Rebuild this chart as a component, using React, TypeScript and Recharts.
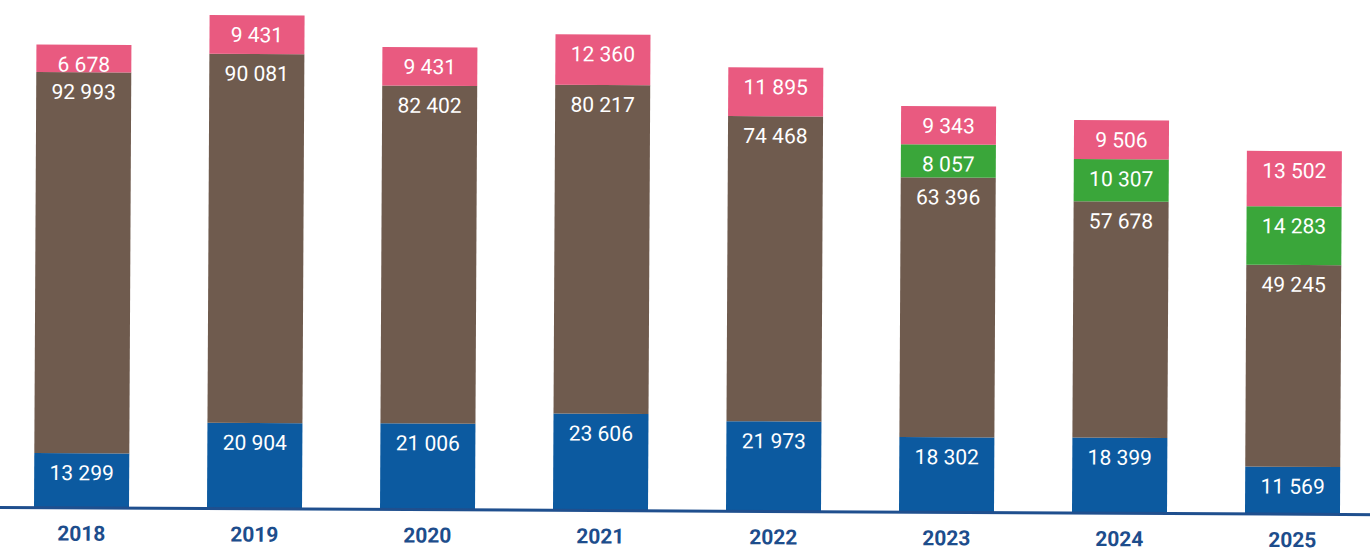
import React from 'react';
import { BarChart, Bar, XAxis, YAxis, LabelList } from 'recharts';

const years = ['2018', '2019', '2020', '2021', '2022', '2023', '2024', '2025'];
const blueValues = [13299, 20904, 21006, 23606, 21973, 18302, 18399, 11569];
const brownValues = [92993, 90081, 82402, 80217, 74468, 63396, 57678, 49245];
const greenValues: (number | null)[] = [null, null, null, null, null, 8057, 10307, 14283];
const pinkValues = [6678, 9431, 9431, 12360, 11895, 9343, 9506, 13502];

const data = years.map((y, i) => ({
  year: y,
  blue: blueValues[i],
  brown: brownValues[i],
  green: greenValues[i],
  pink: pinkValues[i],
}));

const fmt = (v: any) => {
  if (v === null || v === undefined || v === '') return '';
  return String(v).replace(/\B(?=(\d{3})+(?!\d))/g, ' ');
};

const labelStyle = { fill: '#ffffff', fontSize: 21, fontFamily: 'Roboto, sans-serif', fontWeight: 400 };

const series = [
  { key: 'blue', color: '#0c5aa0' },
  { key: 'brown', color: '#6f5b4e' },
  { key: 'green', color: '#3aa63a' },
  { key: 'pink', color: '#e95a80' },
];

export default function App() {
  return (
    <div style={{ position: 'absolute', left: -5, top: 0, width: 1384, height: 551, background: '#fff', transform: 'rotate(0.3deg)', transformOrigin: '690px 511px' }}>
      <BarChart width={1384} height={551} data={data} margin={{ top: 11, right: 0, bottom: 0, left: 0 }} barSize={95}>
        <YAxis hide domain={[0, 122000]} allowDataOverflow />
        <XAxis
          dataKey="year"
          height={40}
          tickLine={false}
          axisLine={{ stroke: '#1f4f8e', strokeWidth: 3 }}
          tick={{ fill: '#1d4d8c', fontSize: 21, fontWeight: 700, fontFamily: 'Roboto, sans-serif' }}
          tickMargin={12}
          interval={0}
        />
        {series.map((s) => (
          <Bar key={s.key} dataKey={s.key} stackId="a" fill={s.color} isAnimationActive={false}>
            <LabelList dataKey={s.key} position="insideTop" offset={12} formatter={fmt} style={labelStyle} />
          </Bar>
        ))}
      </BarChart>
    </div>
  );
}
